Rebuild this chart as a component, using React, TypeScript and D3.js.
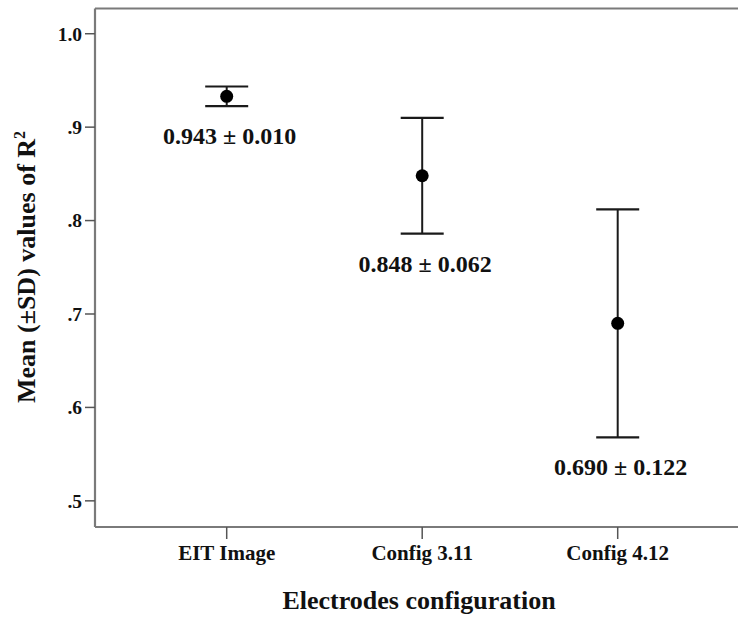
import React from "react";
import * as d3 from "d3";

const categories = ["EIT Image", "Config 3.11", "Config 4.12"];
const means = [0.933, 0.848, 0.69];
const sds = [0.0105, 0.062, 0.122];
const valueLabels = ["0.943 ± 0.010", "0.848 ± 0.062", "0.690 ± 0.122"];
const yTicks = [0.5, 0.6, 0.7, 0.8, 0.9, 1.0];
const yTickLabels = [".5", ".6", ".7", ".8", ".9", "1.0"];

const W = 738;
const H = 618;
const FONT = "'Liberation Serif', 'Times New Roman', serif";

export default function App() {
  const y = d3.scaleLinear().domain([0.472, 1.027]).range([527, 8.5]);
  const x = d3.scalePoint<string>().domain(categories).range([226.7, 617.7]);
  const left = 95;
  const right = 745;
  const top = y(1.027);
  const bottom = y(0.472);
  const frameColor = "#7a7a7a";
  const barColor = "#1a1a1a";
  const capHalf = 21.5;

  return (
    <svg
      width={W}
      height={H}
      style={{ position: "absolute", left: 0, top: 0, background: "#fff" }}
      fontFamily={FONT}
      fontWeight="bold"
    >
      <rect x={0} y={0} width={W} height={H} fill="#fff" />
      {/* frame */}
      <line x1={left} x2={right} y1={top} y2={top} stroke={frameColor} strokeWidth={2.2} />
      <line x1={left} x2={right} y1={bottom} y2={bottom} stroke={frameColor} strokeWidth={2.2} />
      <line x1={left} x2={left} y1={top} y2={bottom} stroke={frameColor} strokeWidth={2.2} />

      {/* y ticks */}
      {yTicks.map((t, i) => (
        <g key={t}>
          <line x1={left - 10} x2={left} y1={y(t)} y2={y(t)} stroke="#555" strokeWidth={1.5} />
          <text x={left - 13} y={y(t)} dy="0.35em" textAnchor="end" fontSize={19.5} fill="#111">
            {yTickLabels[i]}
          </text>
        </g>
      ))}

      {/* x ticks */}
      {categories.map((c) => (
        <g key={c}>
          <line x1={x(c)} x2={x(c)} y1={bottom} y2={bottom + 12} stroke="#555" strokeWidth={1.5} />
          <text x={x(c)} y={bottom + 33} textAnchor="middle" fontSize={21} fill="#111">
            {c}
          </text>
        </g>
      ))}

      {/* error bars */}
      {categories.map((c, i) => {
        const cx = x(c) as number;
        const hi = y(means[i] + sds[i]);
        const lo = y(means[i] - sds[i]);
        return (
          <g key={c}>
            <line x1={cx} x2={cx} y1={hi} y2={lo} stroke={barColor} strokeWidth={2} />
            <line x1={cx - capHalf} x2={cx + capHalf} y1={hi} y2={hi} stroke={barColor} strokeWidth={2.2} />
            <line x1={cx - capHalf} x2={cx + capHalf} y1={lo} y2={lo} stroke={barColor} strokeWidth={2.2} />
            <circle cx={cx} cy={y(means[i])} r={6.5} fill="#000" />
            <text x={cx + 3} y={lo + 38} textAnchor="middle" fontSize={24} fill="#111">
              {valueLabels[i]}
            </text>
          </g>
        );
      })}

      {/* axis titles */}
      <text x={419} y={609} textAnchor="middle" fontSize={26} fill="#111">
        Electrodes configuration
      </text>
      <text
        transform={`translate(35, ${267}) rotate(-90)`}
        textAnchor="middle"
        fontSize={26}
        fill="#111"
      >
        Mean (±SD) values of R
        <tspan dy={-10} fontSize={16}>2</tspan>
      </text>
    </svg>
  );
}
